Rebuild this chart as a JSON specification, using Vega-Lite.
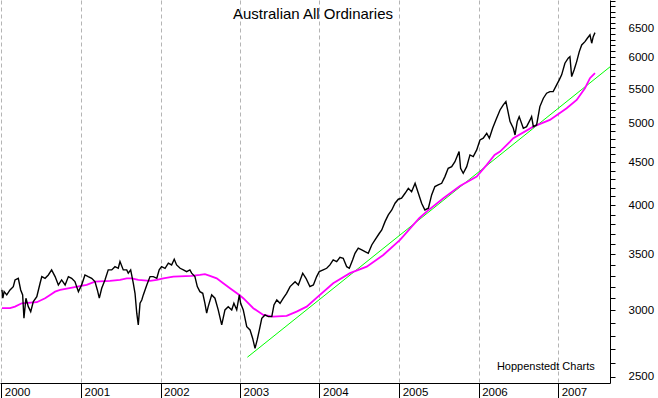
{
 "$schema": "https://vega.github.io/schema/vega-lite/v6.json",
 "width": 610,
 "height": 383,
 "autosize": {"type": "none"},
 "padding": {"left": 0, "top": 0, "right": 48, "bottom": 15},
 "background": "white",
 "config": {"view": {"stroke": null}, "font": "Liberation Sans"},
 "title": {"text": "Australian All Ordinaries", "fontSize": 15, "fontWeight": "normal", "color": "black", "anchor": "middle", "frame": "group", "offset": -21, "dy": 18, "baseline": "alphabetic", "dx": 8, "font": "Liberation Sans"},
 "datasets": {
  "allords": [
   {"date":"2000-01-04","value":3173},{"date":"2000-01-08","value":3102},{"date":"2000-01-14","value":3158},{"date":"2000-01-26","value":3130},
   {"date":"2000-02-10","value":3173},{"date":"2000-02-25","value":3202},{"date":"2000-03-04","value":3261},{"date":"2000-03-19","value":3276},
   {"date":"2000-03-30","value":3173},{"date":"2000-04-08","value":3130},{"date":"2000-04-14","value":2936},{"date":"2000-04-23","value":3102},
   {"date":"2000-05-04","value":3031},{"date":"2000-05-15","value":2990},{"date":"2000-05-27","value":3073},{"date":"2000-06-12","value":3115},
   {"date":"2000-06-27","value":3232},{"date":"2000-07-05","value":3291},{"date":"2000-07-20","value":3276},{"date":"2000-08-04","value":3306},
   {"date":"2000-08-19","value":3352},{"date":"2000-09-04","value":3291},{"date":"2000-09-19","value":3217},{"date":"2000-10-04","value":3261},
   {"date":"2000-10-20","value":3217},{"date":"2000-11-04","value":3291},{"date":"2000-11-19","value":3276},{"date":"2000-12-04","value":3246},
   {"date":"2000-12-20","value":3158},{"date":"2001-01-04","value":3217},{"date":"2001-01-19","value":3306},{"date":"2001-02-03","value":3291},
   {"date":"2001-02-19","value":3276},{"date":"2001-03-06","value":3246},{"date":"2001-03-17","value":3173},{"date":"2001-03-26","value":3102},
   {"date":"2001-04-06","value":3188},{"date":"2001-04-21","value":3261},{"date":"2001-05-06","value":3352},{"date":"2001-05-22","value":3352},
   {"date":"2001-06-06","value":3382},{"date":"2001-06-21","value":3367},{"date":"2001-06-29","value":3429},{"date":"2001-07-14","value":3352},
   {"date":"2001-07-30","value":3352},{"date":"2001-08-06","value":3322},{"date":"2001-08-17","value":3352},{"date":"2001-08-29","value":3232},
   {"date":"2001-09-06","value":3144},{"date":"2001-09-14","value":2977},{"date":"2001-09-21","value":2883},{"date":"2001-09-29","value":3059},
   {"date":"2001-10-07","value":3087},{"date":"2001-10-14","value":3130},{"date":"2001-10-30","value":3217},{"date":"2001-11-14","value":3291},
   {"date":"2001-11-29","value":3291},{"date":"2001-12-15","value":3276},{"date":"2001-12-26","value":3352},{"date":"2002-01-06","value":3382},
   {"date":"2002-01-22","value":3367},{"date":"2002-02-06","value":3414},{"date":"2002-02-21","value":3398},{"date":"2002-03-05","value":3451},
   {"date":"2002-03-16","value":3398},{"date":"2002-04-01","value":3367},{"date":"2002-04-16","value":3352},{"date":"2002-05-01","value":3336},
   {"date":"2002-05-16","value":3352},{"date":"2002-05-24","value":3322},{"date":"2002-06-08","value":3291},{"date":"2002-06-19","value":3202},
   {"date":"2002-07-01","value":3158},{"date":"2002-07-14","value":3144},{"date":"2002-07-24","value":3059},{"date":"2002-08-01","value":2977},
   {"date":"2002-08-08","value":3031},{"date":"2002-08-24","value":3130},{"date":"2002-09-08","value":3102},{"date":"2002-09-23","value":3004},
   {"date":"2002-10-09","value":2883},{"date":"2002-10-24","value":3004},{"date":"2002-11-08","value":3031},{"date":"2002-11-24","value":3004},
   {"date":"2002-12-04","value":3059},{"date":"2002-12-17","value":3004},{"date":"2002-12-29","value":3130},{"date":"2003-01-04","value":3059},
   {"date":"2003-01-16","value":3004},{"date":"2003-02-01","value":2869},{"date":"2003-02-16","value":2844},{"date":"2003-02-28","value":2780},
   {"date":"2003-03-11","value":2704},{"date":"2003-03-21","value":2767},{"date":"2003-03-31","value":2844},{"date":"2003-04-11","value":2936},
   {"date":"2003-04-26","value":2963},{"date":"2003-05-11","value":2949},{"date":"2003-05-27","value":2949},{"date":"2003-06-06","value":3045},
   {"date":"2003-06-19","value":3087},{"date":"2003-07-04","value":3059},{"date":"2003-07-19","value":3102},{"date":"2003-08-03","value":3144},
   {"date":"2003-08-19","value":3202},{"date":"2003-09-11","value":3246},{"date":"2003-09-26","value":3217},{"date":"2003-10-16","value":3322},
   {"date":"2003-10-31","value":3276},{"date":"2003-11-18","value":3202},{"date":"2003-12-04","value":3217},{"date":"2003-12-19","value":3291},
   {"date":"2003-12-31","value":3336},{"date":"2004-01-18","value":3352},{"date":"2004-02-03","value":3367},{"date":"2004-02-18","value":3398},
   {"date":"2004-03-04","value":3445},{"date":"2004-03-20","value":3429},{"date":"2004-04-04","value":3470},{"date":"2004-04-19","value":3461},
   {"date":"2004-05-05","value":3382},{"date":"2004-05-17","value":3367},{"date":"2004-06-01","value":3445},{"date":"2004-06-12","value":3508},
   {"date":"2004-06-27","value":3557},{"date":"2004-07-13","value":3540},{"date":"2004-07-28","value":3524},{"date":"2004-08-12","value":3508},
   {"date":"2004-08-28","value":3589},{"date":"2004-09-12","value":3639},{"date":"2004-10-02","value":3706},{"date":"2004-10-13","value":3740},
   {"date":"2004-10-28","value":3826},{"date":"2004-11-12","value":3897},{"date":"2004-11-28","value":3950},{"date":"2004-12-13","value":4024},
   {"date":"2004-12-28","value":4068},{"date":"2005-01-12","value":4079},{"date":"2005-01-28","value":4135},{"date":"2005-02-12","value":4192},
   {"date":"2005-02-27","value":4153},{"date":"2005-03-15","value":4250},{"date":"2005-03-30","value":4135},{"date":"2005-04-14","value":4024},
   {"date":"2005-04-29","value":3950},{"date":"2005-05-15","value":3969},{"date":"2005-05-30","value":4116},{"date":"2005-06-14","value":4211},
   {"date":"2005-06-29","value":4230},{"date":"2005-07-15","value":4250},{"date":"2005-07-30","value":4328},{"date":"2005-08-14","value":4428},
   {"date":"2005-08-30","value":4448},{"date":"2005-09-14","value":4509},{"date":"2005-10-03","value":4635},{"date":"2005-10-10","value":4428},
   {"date":"2005-10-22","value":4368},{"date":"2005-11-07","value":4448},{"date":"2005-11-22","value":4593},{"date":"2005-12-07","value":4572},
   {"date":"2005-12-23","value":4656},{"date":"2006-01-07","value":4785},{"date":"2006-01-22","value":4808},{"date":"2006-02-07","value":4874},
   {"date":"2006-02-19","value":4808},{"date":"2006-03-06","value":4941},{"date":"2006-03-21","value":5055},{"date":"2006-04-09","value":5195},
   {"date":"2006-04-24","value":5267},{"date":"2006-05-06","value":5315},{"date":"2006-05-14","value":5195},{"date":"2006-05-25","value":5032},
   {"date":"2006-06-09","value":4941},{"date":"2006-06-17","value":4851},{"date":"2006-06-27","value":5032},{"date":"2006-07-06","value":5101},
   {"date":"2006-07-25","value":4941},{"date":"2006-08-09","value":4963},{"date":"2006-08-25","value":5055},{"date":"2006-09-01","value":5101},
   {"date":"2006-09-09","value":4963},{"date":"2006-09-24","value":4986},{"date":"2006-10-09","value":5243},{"date":"2006-10-25","value":5365},
   {"date":"2006-11-09","value":5439},{"date":"2006-11-24","value":5463},{"date":"2006-12-09","value":5463},{"date":"2006-12-25","value":5564},
   {"date":"2007-01-06","value":5641},{"date":"2007-01-17","value":5719},{"date":"2007-02-01","value":5905},{"date":"2007-02-16","value":5986},
   {"date":"2007-02-24","value":6012},{"date":"2007-03-04","value":5692},{"date":"2007-03-15","value":5797},{"date":"2007-03-27","value":5931},
   {"date":"2007-04-08","value":6095},{"date":"2007-04-19","value":6208},{"date":"2007-05-04","value":6264},{"date":"2007-05-15","value":6323},
   {"date":"2007-05-27","value":6381},{"date":"2007-06-04","value":6237},{"date":"2007-06-11","value":6351},{"date":"2007-06-19","value":6421}
  ],
  "ma": [
   {"date":"2000-01-04","value":3018},{"date":"2000-02-10","value":3018},{"date":"2000-03-04","value":3031},{"date":"2000-04-04","value":3059},
   {"date":"2000-06-12","value":3068},{"date":"2000-07-20","value":3102},{"date":"2000-08-12","value":3130},{"date":"2000-09-04","value":3158},
   {"date":"2000-09-27","value":3173},{"date":"2000-11-27","value":3196},{"date":"2001-01-27","value":3217},{"date":"2001-03-06","value":3246},
   {"date":"2001-05-14","value":3252},{"date":"2001-06-29","value":3261},{"date":"2001-07-30","value":3276},{"date":"2001-08-22","value":3276},
   {"date":"2001-09-21","value":3261},{"date":"2001-11-14","value":3252},{"date":"2001-12-15","value":3261},{"date":"2002-01-14","value":3276},
   {"date":"2002-03-01","value":3291},{"date":"2002-05-24","value":3297},{"date":"2002-07-01","value":3306},{"date":"2002-07-24","value":3313},
   {"date":"2002-08-16","value":3297},{"date":"2002-09-16","value":3276},{"date":"2002-10-16","value":3232},{"date":"2002-11-16","value":3188},
   {"date":"2002-12-29","value":3130},{"date":"2003-01-16","value":3102},{"date":"2003-03-03","value":3018},{"date":"2003-04-18","value":2963},
   {"date":"2003-06-03","value":2949},{"date":"2003-08-03","value":2955},{"date":"2003-09-18","value":2990},{"date":"2003-11-03","value":3031},
   {"date":"2003-12-21","value":3109},{"date":"2004-03-04","value":3232},{"date":"2004-05-20","value":3322},{"date":"2004-08-05","value":3382},
   {"date":"2004-10-20","value":3492},{"date":"2005-01-05","value":3639},{"date":"2005-04-03","value":3862},{"date":"2005-05-07","value":3932},
   {"date":"2005-07-23","value":4079},{"date":"2005-10-07","value":4219},{"date":"2005-12-23","value":4328},{"date":"2006-02-07","value":4469},
   {"date":"2006-03-15","value":4593},{"date":"2006-04-09","value":4635},{"date":"2006-05-25","value":4763},{"date":"2006-06-09","value":4808},
   {"date":"2006-09-09","value":4963},{"date":"2006-11-24","value":5055},{"date":"2007-02-09","value":5220},{"date":"2007-03-27","value":5340},
   {"date":"2007-05-04","value":5514},{"date":"2007-05-27","value":5667},{"date":"2007-06-19","value":5745}
  ],
  "trend": [
   {"date":"2003-02-04","value":2639},{"date":"2007-08-27","value":5846}
  ],
  "credit": [
   {"date":"2007-06-18","value":2548,"label":"Hoppenstedt Charts"}
  ]
 },
 "encoding": {
  "x": {
   "field": "date", "type": "temporal",
   "scale": {"type": "utc", "domain": [{"year":1999,"month":12,"date":26,"utc":true},{"year":2007,"month":8,"date":27,"utc":true}]},
   "axis": {
    "title": null,
    "values": [
     {"year":2000,"month":1,"date":1,"utc":true},{"year":2001,"month":1,"date":1,"utc":true},{"year":2002,"month":1,"date":1,"utc":true},
     {"year":2003,"month":1,"date":1,"utc":true},{"year":2004,"month":1,"date":1,"utc":true},{"year":2005,"month":1,"date":1,"utc":true},
     {"year":2006,"month":1,"date":1,"utc":true},{"year":2007,"month":1,"date":1,"utc":true}
    ],
    "format": "%Y",
    "grid": true, "gridColor": "#b4b4b4", "gridDash": [4, 3], "gridWidth": 1,
    "domainColor": "black", "domainWidth": 1,
    "tickColor": "black", "tickSize": 15, "tickWidth": 1,
    "labelAlign": "left", "labelBaseline": "alphabetic", "labelPadding": -3, "labelOffset": 3,
    "labelFontSize": 11.5, "labelColor": "black", "labelFont": "Liberation Sans",
    "labelFlush": false, "labelOverlap": false
   }
  },
  "y": {
   "field": "value", "type": "quantitative",
   "scale": {"type": "log", "domain": [2459, 7021], "nice": false, "zero": false},
   "axis": {
    "title": null, "orient": "right",
    "values": [2500,2600,2700,2800,2900,3000,3100,3200,3300,3400,3500,3600,3700,3800,3900,4000,4100,4200,4300,4400,4500,4600,4700,4800,4900,5000,5100,5200,5300,5400,5500,5600,5700,5800,5900,6000,6100,6200,6300,6400,6500,6600,6700,6800,6900,7000],
    "format": "d",
    "labelExpr": "(datum.value % 500 === 0 && datum.value < 6900) ? datum.label : ''",
    "grid": false,
    "domainColor": "black", "domainWidth": 1,
    "tickColor": "black", "tickSize": 5, "tickWidth": 1,
    "labelPadding": 13, "labelFontSize": 11.5, "labelColor": "black", "labelFont": "Liberation Sans",
    "labelOverlap": false, "labelFlush": false
   }
  }
 },
 "layer": [
  {"data": {"name": "trend"}, "mark": {"type": "line", "color": "#00ff00", "strokeWidth": 1}},
  {"data": {"name": "ma"}, "mark": {"type": "line", "color": "#ff00ff", "strokeWidth": 1.8}},
  {"data": {"name": "allords"}, "mark": {"type": "line", "color": "black", "strokeWidth": 1.4}},
  {
   "data": {"name": "credit"},
   "mark": {"type": "text", "align": "right", "baseline": "alphabetic", "fontSize": 11, "color": "black", "font": "Liberation Sans"},
   "encoding": {"text": {"field": "label", "type": "nominal"}}
  }
 ]
}
